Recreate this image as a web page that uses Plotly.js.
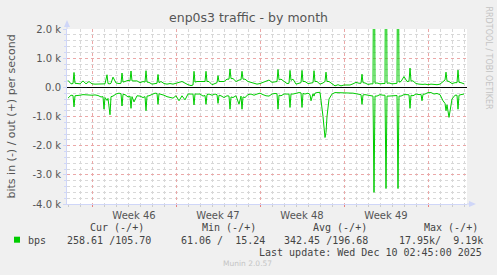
<!DOCTYPE html>
<html>
<head>
<meta charset="utf-8">
<script src="https://cdn.plot.ly/plotly-3.0.1.min.js"></script>
<style>html,body{margin:0;padding:0;background:#f0f0f0;}#chart{width:497px;height:275px;}</style>
</head>
<body>
<div id="chart"></div>
<script>
// Sample times in hours after 2025-11-08 00:00, values in kbit/s
const startTime = Date.UTC(2025, 10, 8, 0, 0);
const sampleHours = [
  0, 6, 10, 12, 14, 18, 24, 30, 36, 42,
  48, 54, 60, 66, 70, 72, 74, 78, 80, 84,
  86, 90, 96, 102, 106, 108, 110, 114, 120, 124,
  126, 128, 132, 138, 144, 150, 154, 156, 158, 162,
  168, 174, 178, 180, 182, 186, 192, 198, 204, 210,
  216, 222, 228, 234, 240, 246, 250, 252, 254, 258,
  264, 270, 274, 276, 278, 282, 288, 294, 298, 300,
  302, 306, 312, 318, 322, 324, 326, 330, 336, 342,
  346, 348, 350, 354, 360, 366, 372, 378, 384, 390,
  396, 402, 408, 414, 418, 420, 422, 426, 432, 438,
  442, 444, 446, 450, 456, 462, 466, 468, 470, 474,
  480, 484, 486, 490, 492, 494, 498, 504, 510, 514,
  516, 518, 522, 528, 534, 540, 546, 552, 558, 564,
  570, 576, 582, 586, 588, 590, 594, 600, 606, 610,
  612, 614, 618, 624, 630, 634, 636, 638, 642, 648,
  654, 658, 660, 662, 666, 672, 678, 682, 684, 686,
  690, 696, 702, 706, 708, 710, 714, 720, 726, 732,
  738, 744, 750, 754, 756, 758, 762, 768, 774, 778,
  780, 782, 786, 792
];
const outValues = [
  0.24, 0.12, 0.13, 0.51, 0.14, 0.13, 0.12, 0.22, 0.12, 0.20,
  0.12, 0.11, 0.12, 0.13, 0.12, 0.12, 0.12, 0.43, 0.13, 0.12,
  0.14, 0.35, 0.15, 0.13, 0.14, 0.49, 0.18, 0.20, 0.24, 0.22,
  0.56, 0.22, 0.22, 0.22, 0.16, 0.20, 0.18, 0.57, 0.18, 0.17,
  0.11, 0.13, 0.14, 0.44, 0.16, 0.20, 0.13, 0.11, 0.13, 0.11,
  0.13, 0.17, 0.20, 0.13, 0.09, 0.06, 0.08, 0.55, 0.18, 0.20,
  0.20, 0.20, 0.20, 0.55, 0.20, 0.20, 0.09, 0.13, 0.16, 0.40,
  0.20, 0.20, 0.20, 0.28, 0.28, 0.63, 0.30, 0.30, 0.20, 0.25,
  0.26, 0.55, 0.28, 0.28, 0.20, 0.17, 0.13, 0.11, 0.13, 0.17,
  0.20, 0.25, 0.17, 0.20, 0.20, 0.61, 0.26, 0.28, 0.20, 0.13,
  0.14, 0.58, 0.24, 0.28, 0.11, 0.15, 0.16, 0.58, 0.20, 0.20,
  0.13, 0.14, 0.15, 0.16, 0.57, 0.20, 0.20, 0.11, 0.15, 0.20,
  0.52, 0.20, 0.20, 0.11, 0.05, 0.09, 0.05, 0.08, 0.08, 0.08,
  0.12, 0.17, 0.14, 0.14, 0.45, 0.16, 0.15, 0.10, 0.12, 0.12,
  8.00, 0.14, 0.15, 0.12, 0.13, 0.13, 9.19, 0.14, 0.15, 0.12,
  0.13, 0.14, 7.50, 0.18, 0.20, 0.37, 0.20, 0.21, 0.66, 0.22,
  0.22, 0.13, 0.11, 0.10, 0.09, 0.10, 0.11, 0.09, 0.11, 0.09,
  0.09, 0.11, 0.20, 0.25, 0.52, 0.22, 0.20, 0.13, 0.16, 0.16,
  0.59, 0.17, 0.16, 0.12
];
const inValues = [
  -0.37, -0.27, -0.28, -0.67, -0.29, -0.29, -0.27, -0.25, -0.26, -0.25,
  -0.27, -0.26, -0.28, -0.33, -0.32, -0.75, -0.35, -0.45, -0.38, -0.94,
  -0.32, -0.30, -0.23, -0.20, -0.22, -0.64, -0.24, -0.25, -0.33, -0.30,
  -0.72, -0.32, -0.50, -0.29, -0.30, -0.35, -0.32, -0.80, -0.30, -0.29,
  -0.24, -0.20, -0.21, -0.58, -0.22, -0.23, -0.27, -0.32, -0.35, -0.37,
  -0.29, -0.46, -0.29, -0.43, -0.23, -0.23, -0.23, -0.60, -0.23, -0.23,
  -0.23, -0.30, -0.28, -0.58, -0.25, -0.23, -0.27, -0.23, -0.25, -0.55,
  -0.27, -0.29, -0.35, -0.29, -0.30, -0.75, -0.33, -0.35, -0.29, -0.58,
  -0.30, -0.75, -0.33, -0.35, -0.25, -0.23, -0.27, -0.23, -0.20, -0.25,
  -0.29, -0.30, -0.23, -0.21, -0.22, -0.75, -0.27, -0.29, -0.23, -0.23,
  -0.23, -0.69, -0.23, -0.23, -0.20, -0.18, -0.19, -0.69, -0.21, -0.23,
  -0.20, -0.25, -0.46, -0.22, -0.30, -0.20, -0.18, -0.17, -1.00, -1.72,
  -1.55, -1.00, -0.40, -0.23, -0.18, -0.18, -0.20, -0.18, -0.20, -0.18,
  -0.20, -0.22, -0.25, -0.25, -0.58, -0.26, -0.25, -0.27, -0.30, -0.30,
  -3.60, -0.30, -0.30, -0.25, -0.27, -0.27, -3.47, -0.30, -0.30, -0.30,
  -0.28, -0.28, -3.47, -0.30, -0.30, -0.25, -0.25, -0.26, -0.72, -0.27,
  -0.29, -0.23, -0.25, -0.24, -0.46, -0.24, -0.23, -0.18, -0.18, -0.23,
  -0.21, -0.25, -0.46, -0.55, -0.80, -0.60, -1.03, -0.40, -0.27, -0.27,
  -0.75, -0.27, -0.25, -0.23
];
const yTickVals = [-4, -3, -2, -1, 0, 1, 2];
const yTickText = ['-4.0 k', '-3.0 k', '-2.0 k', '-1.0 k', '0.0', '1.0 k', '2.0 k'];
const legendHeaders = ['Cur (-/+)', 'Min (-/+)', 'Avg (-/+)', 'Max (-/+)'];
const legendValues = ['258.61 /105.70', '61.06 /  15.24', '342.45 /196.68', '17.95k/  9.19k'];
const seriesName = 'bps';
const lastUpdate = 'Last update: Wed Dec 10 02:45:00 2025';

const times = sampleHours.map(h => startTime + h * 3600e3);

const L = 67, R = 467, T = 29, B = 204, W = 497, H = 275;
const px = x => (x - L) / (R - L);
const py = y => (B - y) / (B - T);
const nb = s => s.replace(/ /g, '\u00A0');

const green = '#00cc00';
const axisBlue = '#cfd6f8';
const textCol = '#555555';
const mono = 'DejaVu Sans Mono, monospace';
const sans = 'DejaVu Sans, sans-serif';

const traces = [
  {x: times, y: outValues, type: 'scatter', mode: 'lines', line: {color: green, width: 1}, hoverinfo: 'skip'},
  {x: times, y: inValues, type: 'scatter', mode: 'lines', line: {color: green, width: 1}, hoverinfo: 'skip'}
];

const ann = [];
const hdrX = [89, 200.7, 311.7, 422.7];
const valX = [66.3, 180, 283, 397.7];
const legFont = {family: mono, size: 10, color: '#444'};
legendHeaders.forEach((t, i) => ann.push({text: nb(t), x: px(hdrX[i]), y: py(227), xref: 'paper', yref: 'paper', xanchor: 'left', yanchor: 'middle', showarrow: false, borderpad: 0, font: legFont}));
legendValues.forEach((t, i) => ann.push({text: nb(t), x: px(valX[i]), y: py(240), xref: 'paper', yref: 'paper', xanchor: 'left', yanchor: 'middle', showarrow: false, borderpad: 0, font: legFont}));
ann.push({text: seriesName, x: px(26.7), y: py(240), xref: 'paper', yref: 'paper', xanchor: 'left', yanchor: 'middle', showarrow: false, borderpad: 0, font: legFont});
ann.push({text: nb(lastUpdate), x: px(482.7), y: py(252), xref: 'paper', yref: 'paper', xanchor: 'right', yanchor: 'middle', showarrow: false, borderpad: 0, font: legFont});
ann.push({text: 'Munin 2.0.57', x: px(247.5), y: py(263.5), xref: 'paper', yref: 'paper', xanchor: 'center', yanchor: 'middle', showarrow: false, borderpad: 0, font: {family: sans, size: 7.5, color: '#c4c4c4'}});
ann.push({text: 'RRDTOOL / TOBI OETIKER', x: px(488), y: py(57.5), xref: 'paper', yref: 'paper', xanchor: 'center', yanchor: 'middle', textangle: 90, showarrow: false, borderpad: 0, font: {family: sans, size: 8, color: '#c4c4c4'}});
ann.push({text: 'bits in (-) / out (+) per second', x: px(11), y: 0.5, xref: 'paper', yref: 'paper', xanchor: 'center', yanchor: 'middle', textangle: -90, showarrow: false, borderpad: 0, font: {family: sans, size: 11, color: textCol}});

const shapes = [
  {type: 'rect', xref: 'paper', yref: 'paper', x0: px(14), x1: px(20), y0: py(242.7), y1: py(236.7), fillcolor: green, line: {width: 0}},
  {type: 'line', xref: 'paper', yref: 'paper', x0: 0, x1: 0, y0: 1, y1: py(24), line: {color: axisBlue, width: 1}},
  {type: 'path', xref: 'paper', yref: 'paper', path: `M ${px(64)} ${py(27)} L ${px(70)} ${py(27)} L ${px(67)} ${py(20)} Z`, fillcolor: axisBlue, line: {width: 0}},
  {type: 'line', xref: 'paper', yref: 'paper', x0: 1, x1: px(471), y0: 0, y1: 0, line: {color: axisBlue, width: 1}},
  {type: 'path', xref: 'paper', yref: 'paper', path: `M ${px(469)} ${py(201)} L ${px(469)} ${py(207)} L ${px(476)} ${py(204)} Z`, fillcolor: axisBlue, line: {width: 0}}
];

const layout = {
  width: W, height: H,
  margin: {l: L, r: W - R, t: T, b: H - B, pad: 0},
  paper_bgcolor: '#f0f0f0',
  plot_bgcolor: '#ffffff',
  showlegend: false,
  hovermode: false,
  title: {text: 'enp0s3 traffic - by month', font: {family: sans, size: 12.5, color: textCol}, x: 0.5, xref: 'container', xanchor: 'center', y: 1 - 18 / H, yref: 'container', yanchor: 'middle'},
  xaxis: {
    type: 'date',
    range: ['2025-11-07 22:00', '2025-12-11 06:00'],
    tickmode: 'linear', tick0: '2025-11-10', dtick: 7 * 86400000,
    tickformat: 'Week %V', ticklabelmode: 'period',
    showgrid: true, gridcolor: '#eba8a8', griddash: 'dot', gridwidth: 1,
    ticks: 'outside', ticklen: 2, tickcolor: '#e88080',
    tickfont: {family: sans, size: 10, color: textCol},
    showline: true, linecolor: axisBlue, linewidth: 1,
    zeroline: false,
    minor: {tickmode: 'linear', tick0: '2025-11-10', dtick: 86400000, showgrid: true, gridcolor: '#d8d8d8', griddash: 'dot', gridwidth: 1, ticks: 'outside', ticklen: 2, tickcolor: '#cccccc'}
  },
  yaxis: {
    range: [-4, 2],
    tickmode: 'array', tickvals: yTickVals, ticktext: yTickText,
    showgrid: true, gridcolor: '#eba8a8', griddash: 'dot', gridwidth: 1,
    ticks: 'outside', ticklen: 3, tickcolor: axisBlue,
    tickfont: {family: sans, size: 10, color: textCol},
    showline: true, linecolor: axisBlue, linewidth: 1,
    zeroline: true, zerolinecolor: '#000000', zerolinewidth: 1.5,
    minor: {tickmode: 'linear', tick0: 0, dtick: 0.2, showgrid: true, gridcolor: '#d8d8d8', griddash: 'dot', gridwidth: 1, ticks: 'outside', ticklen: 2, tickcolor: axisBlue}
  },
  annotations: ann,
  shapes: shapes
};

Plotly.newPlot('chart', traces, layout, {staticPlot: true, displayModeBar: false});
</script>
</body>
</html>
